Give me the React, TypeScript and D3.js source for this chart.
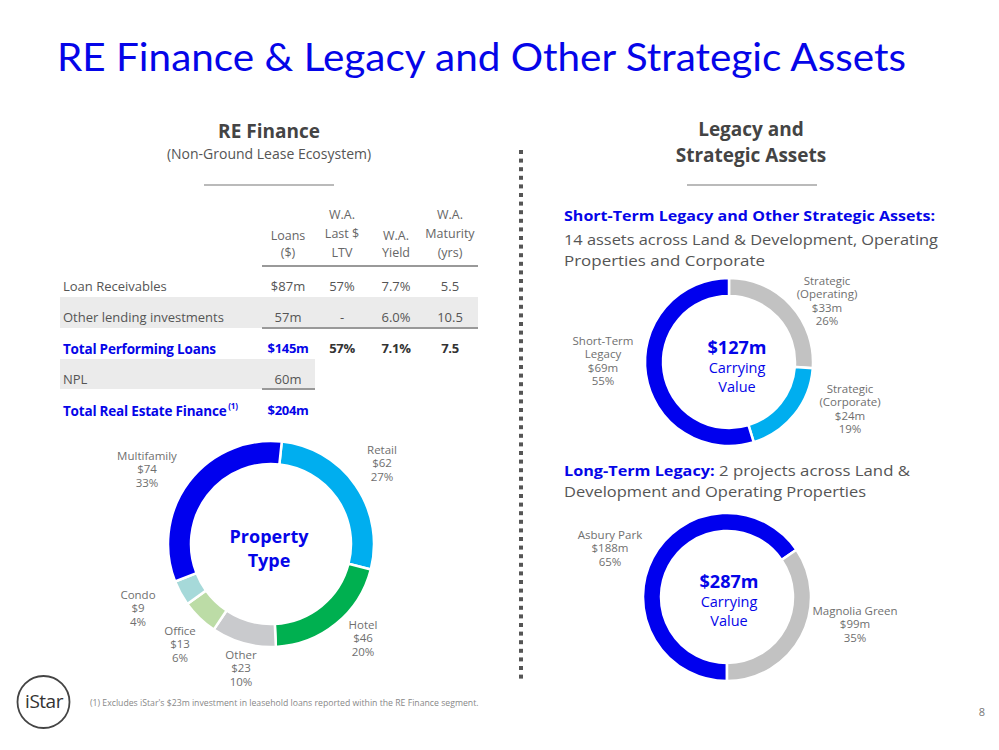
import React from "react";
import * as d3 from "d3";

const BLUE = "#0505e8";
const GRAY_TXT = "#6f6f6f";

// Property type donut
const propCategories = ["Retail", "Hotel", "Other", "Office", "Condo", "Multifamily"];
const propValues = [62, 46, 23, 13, 9, 74];
const propPct = ["27%", "20%", "10%", "6%", "4%", "33%"];
const propColors = ["#00aeef", "#00b050", "#c9cacd", "#bcdca6", "#a6d9d9", "#0000ee"];
const propLabelPos: [number, number][] = [[382, 451], [363, 626], [241, 656], [180, 632], [138, 596], [147, 457]];

// Short-term donut
const stCategories = [["Strategic", "(Operating)"], ["Strategic", "(Corporate)"], ["Short-Term", "Legacy"]];
const stValues = [33, 24, 69];
const stPct = ["26%", "19%", "55%"];
const stColors = ["#c2c2c2", "#00aeef", "#0000ee"];
const stLabelPos: [number, number][] = [[827, 282], [850, 390], [603, 342]];

// Long-term donut
const ltCategories = ["Asbury Park", "Magnolia Green"];
const ltValues = [188, 99];
const ltPct = ["65%", "35%"];
const ltColors = ["#0000ee", "#c2c2c2"];
const ltLabelPos: [number, number][] = [[610, 536], [855, 612]];

// Table
const tableHeaders = [["Loans", "($)"], ["W.A.", "Last $", "LTV"], ["W.A.", "Yield"], ["W.A.", "Maturity", "(yrs)"]];
const tableRows = ["Loan Receivables", "Other lending investments", "Total Performing Loans", "NPL", "Total Real Estate Finance"];
const tableValues = [
  ["$87m", "57%", "7.7%", "5.5"],
  ["57m", "-", "6.0%", "10.5"],
  ["$145m", "57%", "7.1%", "7.5"],
  ["60m"],
  ["$204m"],
];

const FONT = "'Open Sans', Lato, sans-serif";

function Donut({ cx, cy, r, ir, values, colors, start, pad }: any) {
  const pie = d3.pie<number>().sort(null).value((d) => d).startAngle(start).endAngle(start + 2 * Math.PI);
  const arc = d3.arc<d3.PieArcDatum<number>>().outerRadius(r).innerRadius(ir);
  const arcs = pie(values);
  return (
    <g transform={`translate(${cx},${cy})`}>
      {arcs.map((a, i) => (
        <path key={i} d={arc(a) || ""} fill={colors[i]} stroke="#fff" strokeWidth={pad} />
      ))}
    </g>
  );
}

function Lines({ x, y, lines, size = 11.5, dy = 13.3, color = GRAY_TXT, weight = 400, anchor = "middle" }: any) {
  return (
    <text x={x} y={y} fontSize={size} fill={color} fontWeight={weight} textAnchor={anchor} fontFamily={FONT} dominantBaseline="middle">
      {lines.map((l: string, i: number) => (
        <tspan key={i} x={x} y={y + i * dy}>{l}</tspan>
      ))}
    </text>
  );
}

export default function App() {
  const colX = [288, 342, 396, 450];
  const rowY = [288, 319, 350, 381, 412];
  const dots = d3.range(150, 680, 8.6);
  return (
    <svg width={999} height={750} style={{ position: "absolute", left: 0, top: 0, background: "#fff" }} fontFamily={FONT}>
      <rect width={999} height={750} fill="#fff" />
      <text x={57} y={71} fontSize={39} fill={BLUE} fontFamily="Lato, sans-serif" textLength={849} lengthAdjust="spacingAndGlyphs">
        RE Finance &amp; Legacy and Other Strategic Assets
      </text>

      {/* Left headings */}
      <text x={269} y={138} fontSize={19} fontWeight={700} fill="#444" textAnchor="middle">RE Finance</text>
      <text x={269} y={159} fontSize={14} fill="#555" textAnchor="middle">(Non-Ground Lease Ecosystem)</text>
      <line x1={204} x2={334} y1={185} y2={185} stroke="#777" strokeWidth={1.2} />

      {/* Right headings */}
      <text x={751} y={136} fontSize={19} fontWeight={700} fill="#444" textAnchor="middle">Legacy and</text>
      <text x={751} y={162} fontSize={19} fontWeight={700} fill="#444" textAnchor="middle">Strategic Assets</text>
      <line x1={687} x2={817} y1={185} y2={185} stroke="#777" strokeWidth={1.2} />

      {/* dotted divider */}
      {dots.map((y, i) => (
        <rect key={i} x={519} y={y} width={4} height={4} fill="#555" />
      ))}

      {/* Table */}
      <rect x={60} y={297} width={418} height={31} fill="#ebebeb" />
      <rect x={60} y={359} width={255} height={30} fill="#ebebeb" />
      {tableHeaders.map((h, i) => {
        const n = h.length;
        const bottom = 254;
        const step = n === 3 ? 19 : 17;
        return <Lines key={i} x={colX[i]} y={bottom - (n - 1) * step} lines={h} size={12.5} dy={step} color="#666" />;
      })}
      <line x1={262} x2={478} y1={266} y2={266} stroke="#999" strokeWidth={2} />
      <line x1={262} x2={478} y1={328} y2={328} stroke="#999" strokeWidth={2} />
      <line x1={262} x2={315} y1={389} y2={389} stroke="#999" strokeWidth={2} />
      {tableRows.map((r, i) => {
        const bold = i === 2 || i === 4;
        return (
          <g key={i}>
            <text x={63} y={rowY[i]} fontSize={bold ? 13.5 : 13} dominantBaseline="middle" fontWeight={bold ? 700 : 400} fill={bold ? BLUE : "#555"}
              letterSpacing={bold ? -0.2 : 0}>
              {r}
              {i === 4 ? <tspan fontSize={8} dy={-5}> (1)</tspan> : null}
            </text>
            {tableValues[i].map((v, j) => (
              <text key={j} x={colX[j]} y={rowY[i]} fontSize={13} textAnchor="middle" dominantBaseline="middle"
                fontWeight={bold ? 700 : 400} fill={bold ? (j === 0 ? BLUE : "#333") : "#555"} letterSpacing={bold ? -0.3 : 0}>
                {v}
              </text>
            ))}
          </g>
        );
      })}

      {/* Property type donut */}
      <Donut cx={271} cy={544} r={103} ir={80} values={propValues} colors={propColors} start={(6 * Math.PI) / 180} pad={2.5} />
      <Lines x={269} y={538} lines={["Property", "Type"]} size={18} dy={24} color={BLUE} weight={700} />
      {propCategories.map((c, i) => (
        <Lines key={c} x={propLabelPos[i][0]} y={propLabelPos[i][1]} lines={[c, `$${propValues[i]}`, propPct[i]]} />
      ))}

      {/* Right text */}
      <text x={564} y={221} fontSize={14.5} fontWeight={700} fill={BLUE} textLength={371} lengthAdjust="spacingAndGlyphs">Short-Term Legacy and Other Strategic Assets:</text>
      <text x={564} y={245} fontSize={15} fill="#555" textLength={374} lengthAdjust="spacingAndGlyphs">14 assets across Land &amp; Development, Operating</text>
      <text x={564} y={266} fontSize={15} fill="#555" textLength={201} lengthAdjust="spacingAndGlyphs">Properties and Corporate</text>

      <Donut cx={729} cy={362} r={84} ir={66} values={stValues} colors={stColors} start={0} pad={2.5} />
      <Lines x={737} y={349} lines={["$127m"]} size={18} color={BLUE} weight={700} />
      <Lines x={737} y={369} lines={["Carrying", "Value"]} size={14.5} dy={19} color={BLUE} />
      {stCategories.map((c, i) => (
        <Lines key={i} x={stLabelPos[i][0]} y={stLabelPos[i][1]} lines={[c[0], c[1], `$${stValues[i]}m`, stPct[i]]} />
      ))}

      <text x={564} y={476} fontSize={15} fill="#555" textLength={346} lengthAdjust="spacingAndGlyphs">
        <tspan fontWeight={700} fill={BLUE} fontSize={14.5}>Long-Term Legacy:</tspan> 2 projects across Land &amp;
      </text>
      <text x={564} y={497} fontSize={15} fill="#555" textLength={302} lengthAdjust="spacingAndGlyphs">Development and Operating Properties</text>

      <Donut cx={727} cy={597} r={84} ir={66} values={ltValues} colors={ltColors} start={Math.PI} pad={2.5} />
      <Lines x={729} y={583} lines={["$287m"]} size={18} color={BLUE} weight={700} />
      <Lines x={729} y={603} lines={["Carrying", "Value"]} size={14.5} dy={19} color={BLUE} />
      {ltCategories.map((c, i) => (
        <Lines key={c} x={ltLabelPos[i][0]} y={ltLabelPos[i][1]} lines={[c, `$${ltValues[i]}m`, ltPct[i]]} />
      ))}

      {/* Footer */}
      <circle cx={43.5} cy={702} r={26} fill="none" stroke="#444" strokeWidth={1.8} />
      <text x={44} y={703} fontSize={19} fill="#333" textAnchor="middle" dominantBaseline="middle" letterSpacing={-0.5}>iStar</text>
      <text x={90} y={704} fontSize={8.7} fill="#888" dominantBaseline="middle">
        (1) Excludes iStar's $23m investment in leasehold loans reported within the RE Finance segment.
      </text>
      <text x={982} y={713} fontSize={11} fill="#777" textAnchor="middle" dominantBaseline="middle">8</text>
    </svg>
  );
}
